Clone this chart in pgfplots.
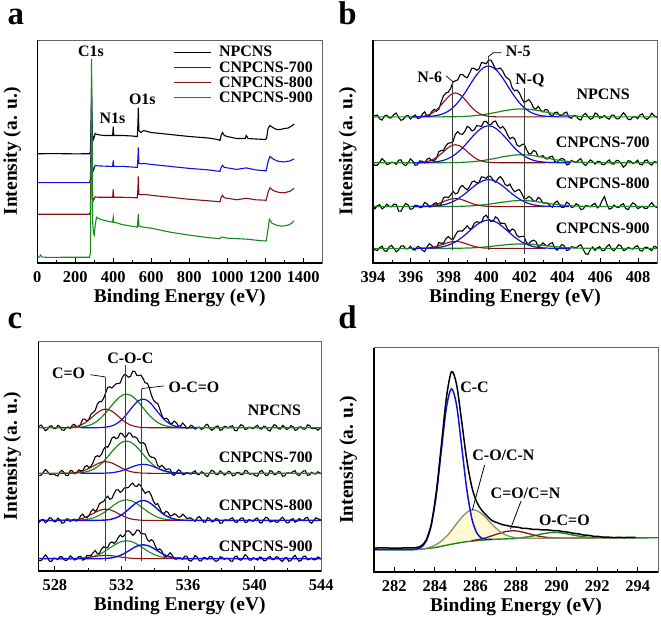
\documentclass[border=0pt]{standalone}
\usepackage{fontspec}
\setmainfont{Liberation Serif}
\usepackage{pgfplots}
\usepackage{pgfplotstable}
\pgfplotsset{compat=1.18}

\definecolor{cblue}{RGB}{16,16,224}
\definecolor{cred}{RGB}{140,16,16}
\definecolor{cgreen}{RGB}{26,138,26}
\definecolor{cgrey}{RGB}{140,140,112}
\definecolor{cyel}{RGB}{255,250,210}
\definecolor{vline}{RGB}{60,60,60}

\newcommand\fs[1]{\fontsize{#1}{#1}\selectfont\bfseries}

\pgfplotstableread{
x r1 r2 r3 r4
394.000 0.5 -1.0 1.0 0.0
394.100 1.2 -2.6 -2.3 -1.4
394.225 1.8 -2.5 0.9 -2.1
394.350 -2.0 0.5 1.9 0.7
394.475 -3.2 4.1 -2.4 2.3
394.600 0.8 1.8 -0.7 -2.5
394.725 1.7 -1.8 2.4 -2.9
394.850 -1.1 -1.3 0.4 1.4
394.975 -0.8 0.6 -0.3 3.0
395.100 2.3 0.2 2.4 0.1
395.225 3.8 -1.7 2.2 -3.4
395.350 -0.6 2.5 -4.5 -1.6
395.475 -3.5 2.9 -4.7 2.3
395.600 -2.4 -1.7 -0.2 2.6
395.725 0.7 -2.8 3.0 -0.4
395.850 1.5 -0.4 1.7 -0.5
395.975 -2.1 3.8 -2.8 2.1
396.100 0.3 1.6 -2.1 -1.2
396.225 1.9 -2.6 1.3 -1.7
396.350 -1.6 -2.1 1.1 1.9
396.475 -1.2 1.9 -1.1 1.2
396.600 2.7 1.4 -0.5 -1.8
396.725 5.0 -0.2 4.1 -3.2
396.850 0.9 3.5 2.9 1.5
396.975 0.8 4.6 -0.5 4.7
397.100 5.3 2.1 0.1 2.9
397.225 7.7 1.8 3.1 -0.2
397.350 5.7 4.3 3.8 0.1
397.475 7.8 11.1 0.3 5.9
397.600 15.0 12.1 2.8 5.2
397.725 21.3 12.6 8.8 5.2
397.850 23.9 17.1 9.7 9.7
397.975 24.8 19.6 8.9 11.9
398.100 28.5 19.9 11.5 9.6
398.225 35.2 21.3 15.3 8.9
398.350 36.1 28.6 12.7 13.3
398.475 37.2 31.2 13.8 17.2
398.600 42.3 28.8 19.4 17.5
398.725 42.5 28.5 21.2 17.4
398.850 40.4 31.5 18.5 20.0
398.975 39.2 36.5 16.7 22.7
399.100 43.9 35.1 20.1 19.5
399.225 48.8 31.8 24.7 20.4
399.350 48.7 33.1 25.6 25.2
399.475 46.8 37.2 23.6 26.8
399.600 48.2 36.9 24.3 26.2
399.725 54.4 36.4 29.8 26.0
399.850 54.2 41.1 29.4 31.7
399.975 53.2 41.6 28.2 33.3
400.100 56.8 38.4 31.0 29.8
400.225 57.0 38.3 29.9 27.0
400.350 52.7 41.0 26.6 27.5
400.475 47.9 41.9 24.3 31.8
400.600 48.2 36.9 27.9 29.6
400.725 49.0 34.6 30.0 25.2
400.850 46.1 36.3 27.0 25.3
400.975 41.1 33.4 22.2 24.7
401.100 38.8 28.2 20.7 19.6
401.225 36.9 23.9 22.6 17.0
401.350 29.1 25.5 18.0 19.6
401.475 26.1 24.2 14.8 18.2
401.600 27.0 17.9 16.2 13.2
401.725 24.1 16.2 17.0 11.3
401.850 19.0 17.9 13.4 12.1
401.975 14.4 18.9 8.0 12.0
402.100 15.7 13.4 7.8 6.0
402.225 17.5 8.9 10.1 4.6
402.350 14.3 9.0 8.7 7.2
402.475 9.3 12.3 5.6 8.2
402.600 7.7 11.1 5.3 7.0
402.725 10.6 6.1 9.3 1.9
402.850 7.0 6.3 7.4 2.8
402.975 4.9 7.1 3.5 5.6
403.100 7.3 4.2 3.5 3.4
403.225 7.0 3.7 3.3 2.5
403.350 2.2 6.0 0.8 4.9
403.475 0.7 6.5 -0.7 5.7
403.600 4.3 1.2 3.9 0.1
403.725 4.7 0.2 5.5 -1.8
403.850 1.5 3.2 2.1 0.9
403.975 1.3 4.3 -0.9 4.0
404.100 3.9 3.2 -0.5 2.6
404.225 4.8 -2.2 4.4 -2.1
404.350 -0.2 -1.5 2.9 -1.5
404.475 -1.4 2.3 -1.0 1.7
404.600 1.5 1.1 -0.3 1.3
404.725 0.9 0.1 2.8 0.5
404.850 -2.0 2.5 1.5 2.4
404.975 -3.2 4.1 -3.1 3.7
405.100 1.7 -0.8 -2.4 -0.8
405.225 3.5 -2.8 0.9 -5.4
405.350 0.3 -0.1 0.6 -6.0
405.475 -2.3 2.8 -0.2 -1.3
405.600 -1.5 1.3 1.9 1.3
405.725 3.8 -1.4 3.2 -2.1
405.850 2.6 1.2 -1.3 0.6
405.975 -1.3 1.4 0.4 1.7
406.100 -0.5 -2.0 6.0 -2.3
406.225 1.4 -2.0 10.0 -1.9
406.350 -1.2 0.8 2.5 1.9
406.475 -2.3 2.8 -2.6 3.8
406.600 1.8 -1.1 -1.7 -0.7
406.725 1.7 -1.4 1.5 -2.5
406.850 -2.0 2.3 -0.4 0.4
406.975 -2.0 2.0 -1.1 3.6
407.100 0.9 -0.6 1.6 2.4
407.225 4.1 -4.5 2.9 -2.2
407.350 1.5 -2.4 -2.2 -1.5
407.475 -2.6 2.1 -3.0 1.0
407.600 -2.7 1.5 0.9 -0.2
407.725 -0.1 -0.8 3.7 -0.7
407.850 0.3 0.3 2.1 1.7
407.975 -1.9 2.5 -2.1 2.7
408.100 2.0 -1.8 -1.0 -2.1
408.225 3.0 -2.2 0.4 -2.6
408.350 -1.1 2.0 -1.9 1.0
408.475 -2.4 2.8 -1.7 1.2
408.600 -0.3 -0.9 1.3 -0.8
408.725 3.7 -2.5 3.9 -2.3
408.850 1.2 1.1 0.6 2.2
409.000 -0.6 0.4 -1.2 0.9
}\braw

\pgfplotstableread{
x b1 b2 b3 b4 d1 d2 d3 d4 g1 g3 g4
394.00 0 0 0 0 0 0 0 0 0 0 0
395.85 0 0 0 0 0 0 0 0 0 0 0
396.10 0 0 0 0 0 0 0 0 0 0 0
396.35 0 0 0 0 0.2 0.1 0.1 0 0 0 0
396.60 0.2 0.1 0.1 0.1 0.6 0.4 0.2 0.2 0 0 0
396.85 0.3 0.2 0.2 0.2 1.5 1.1 0.5 0.4 0 0 0
397.10 0.7 0.5 0.4 0.4 3.5 2.6 1.2 1.0 0 0 0
397.35 1.3 1.0 0.7 0.7 7.0 5.3 2.3 2.0 0 0 0
397.60 2.5 1.8 1.3 1.4 12.0 9.0 4.0 3.5 0 0 0
397.85 4.4 3.2 2.3 2.5 17.6 13.2 5.9 5.1 0.1 0 0
398.10 7.4 5.4 3.9 4.2 22.2 16.7 7.4 6.5 0.1 0.1 0.1
398.35 11.7 8.5 6.2 6.5 24.0 18.0 8.0 7.0 0.2 0.1 0.1
398.60 17.3 12.5 9.2 9.7 22.2 16.7 7.4 6.5 0.3 0.2 0.2
398.85 24.0 17.4 12.7 13.4 17.6 13.2 5.9 5.1 0.5 0.4 0.3
399.10 31.5 22.9 16.7 17.6 12.0 9.0 4.0 3.5 0.8 0.6 0.4
399.35 38.9 28.2 20.6 21.7 7.0 5.3 2.3 2.0 1.2 0.9 0.7
399.60 45.2 32.8 23.9 25.3 3.5 2.6 1.2 1.0 1.7 1.3 0.9
399.85 49.5 35.9 26.2 27.6 1.5 1.1 0.5 0.4 2.3 1.8 1.3
400.10 51.0 37.0 27.0 28.5 0.6 0.4 0.2 0.2 3.1 2.3 1.8
400.35 49.5 35.9 26.2 27.6 0.2 0.1 0.1 0 4.0 3.0 2.3
400.60 45.2 32.8 23.9 25.3 0 0 0 0 4.9 3.7 2.8
400.85 38.9 28.2 20.6 21.7 0 0 0 0 5.9 4.4 3.3
401.10 31.5 22.9 16.7 17.6 0 0 0 0 6.7 5.0 3.8
401.35 24.0 17.4 12.7 13.4 0 0 0 0 7.4 5.6 4.2
401.60 17.3 12.5 9.2 9.7 0 0 0 0 7.8 5.9 4.4
401.85 11.7 8.5 6.2 6.5 0 0 0 0 8.0 6.0 4.5
402.10 7.4 5.4 3.9 4.2 0 0 0 0 7.8 5.9 4.4
402.35 4.4 3.2 2.3 2.5 0 0 0 0 7.4 5.6 4.2
402.60 2.5 1.8 1.3 1.4 0 0 0 0 6.7 5.0 3.8
402.85 1.3 1.0 0.7 0.7 0 0 0 0 5.9 4.4 3.3
403.10 0.7 0.5 0.4 0.4 0 0 0 0 4.9 3.7 2.8
403.35 0.3 0.2 0.2 0.2 0 0 0 0 4.0 3.0 2.3
403.60 0.2 0.1 0.1 0.1 0 0 0 0 3.1 2.3 1.8
403.85 0 0 0 0 0 0 0 0 2.3 1.8 1.3
404.10 0 0 0 0 0 0 0 0 1.7 1.3 0.9
404.35 0 0 0 0 0 0 0 0 1.2 0.9 0.7
404.60 0 0 0 0 0 0 0 0 0.8 0.6 0.4
404.85 0 0 0 0 0 0 0 0 0.5 0.4 0.3
405.10 0 0 0 0 0 0 0 0 0.3 0.2 0.2
405.35 0 0 0 0 0 0 0 0 0.2 0.1 0.1
405.60 0 0 0 0 0 0 0 0 0.1 0.1 0
405.85 0 0 0 0 0 0 0 0 0.1 0 0
406.10 0 0 0 0 0 0 0 0 0 0 0
409.00 0 0 0 0 0 0 0 0 0 0 0
}\bcomp

\pgfplotstableread{
x r1 r2 r3 r4
527.050 1.5 -2.2 -2.1 -2.0
527.175 2.7 -1.9 0.4 -2.0
527.300 0.3 0.9 1.0 0.9
527.425 -2.9 3.8 -2.3 3.8
527.550 -1.8 2.1 -0.8 1.5
527.675 1.5 -1.1 2.7 -2.5
527.800 2.0 -1.0 2.2 -2.7
527.925 -0.7 -0.6 -1.0 0.6
528.050 -0.9 -1.9 -1.4 0.3
528.175 2.4 -2.7 2.3 -1.0
528.300 1.1 1.3 0.7 2.0
528.425 -2.3 3.0 -2.8 1.9
528.550 -2.5 0.7 -2.4 -1.1
528.675 0.1 -2.1 1.4 -1.9
528.800 0.8 -2.0 1.5 -0.3
528.925 -0.8 2.8 -1.1 2.8
529.050 2.5 2.4 0.6 1.2
529.175 3.5 -0.5 1.4 -1.3
529.300 0.4 0.5 -0.6 -0.5
529.425 0.6 3.4 0.8 1.9
529.550 3.5 2.7 4.6 2.4
529.675 8.7 2.6 6.3 -1.5
529.800 8.7 6.7 3.3 -0.5
529.925 6.8 7.7 2.6 3.3
530.050 8.6 5.8 5.0 3.1
530.175 13.8 7.2 9.1 3.2
530.300 15.3 11.0 11.3 6.1
530.425 17.4 16.6 9.0 8.2
530.550 23.6 17.6 11.4 5.0
530.675 26.3 16.7 16.8 5.4
530.800 26.1 19.0 18.2 9.5
530.925 29.4 24.0 18.9 12.0
531.050 35.1 27.1 22.3 10.9
531.175 40.4 26.1 24.4 11.2
531.300 41.1 29.8 21.2 15.6
531.425 39.9 35.2 22.1 16.9
531.550 41.9 36.6 26.7 15.4
531.675 44.1 34.8 30.6 17.1
531.800 44.4 35.7 30.8 21.1
531.925 45.0 40.3 28.2 23.8
532.050 50.4 39.7 29.7 21.9
532.175 53.5 36.5 32.6 23.2
532.300 52.5 37.1 32.7 27.7
532.425 50.7 40.5 33.1 28.0
532.550 51.6 40.2 35.8 26.4
532.675 56.7 36.4 37.5 23.4
532.800 56.6 36.7 34.6 25.2
532.925 52.6 35.5 34.0 28.8
533.050 52.4 31.5 36.5 28.3
533.175 52.7 30.0 34.3 25.3
533.300 49.3 30.9 30.3 25.0
533.425 45.0 29.0 27.1 24.8
533.550 44.8 22.4 28.7 19.4
533.675 40.1 17.7 28.8 17.4
533.800 32.6 16.1 24.8 19.1
533.925 27.7 16.0 19.0 17.3
534.050 25.2 14.1 15.9 11.8
534.175 24.5 7.8 16.9 8.7
534.300 19.1 6.2 12.6 9.8
534.425 12.4 8.1 7.8 7.8
534.550 8.9 5.9 6.8 2.9
534.675 9.6 3.7 9.2 2.1
534.800 8.4 4.3 8.0 3.7
534.925 4.1 4.2 4.4 5.9
535.050 4.5 -1.2 5.0 3.4
535.175 6.7 -2.0 6.7 -0.2
535.300 4.8 1.0 5.5 -0.5
535.425 1.9 3.5 3.3 1.0
535.550 1.8 2.3 3.5 0.6
535.675 4.8 -1.4 6.3 -0.8
535.800 2.5 -0.9 4.5 2.6
535.925 -0.6 0.8 1.9 2.5
536.050 0.2 -0.3 2.5 -1.7
536.175 2.6 -0.8 2.4 -2.5
536.300 1.4 1.2 0.5 -0.4
536.425 -1.4 2.5 -0.9 3.2
536.550 0.1 -0.9 2.5 1.6
536.675 0.7 -1.3 4.0 -2.2
536.800 -1.6 1.6 1.5 -2.2
536.925 -0.7 0.7 -1.6 1.2
537.050 2.6 -2.1 -1.8 0.9
537.175 3.4 -3.3 2.7 -0.6
537.300 -0.5 0.4 2.0 2.1
537.425 -2.5 3.2 -1.4 2.0
537.550 -1.2 1.9 -0.9 -1.0
537.675 1.2 -1.1 1.9 -2.7
537.800 1.8 -1.3 1.1 -1.9
537.925 -2.5 2.4 -2.9 2.0
538.050 -2.0 0.8 -2.6 1.3
538.175 1.5 -1.8 0.4 -0.7
538.300 0.9 -0.6 0.5 0.6
538.425 -0.2 2.1 -0.1 0.1
538.550 1.5 1.2 1.8 -2.3
538.675 2.0 -2.5 2.6 -2.6
538.800 -2.7 -2.0 -1.3 1.9
538.925 -3.1 0.8 -2.2 2.6
539.050 0.3 0.8 0.2 -0.7
539.175 3.0 -1.4 2.3 -1.6
539.300 2.0 -1.1 2.5 0.4
539.425 -1.7 2.9 -2.0 4.0
539.550 -1.1 2.3 -1.7 2.4
539.675 0.7 -0.8 1.0 -1.5
539.800 -0.3 -0.6 -0.4 -1.5
539.925 -0.8 -0.6 -0.8 1.0
540.050 1.2 -2.4 1.6 -0.2
540.175 2.5 -2.9 2.3 -1.4
540.300 -0.9 1.5 -2.2 1.7
540.425 -1.3 2.9 -2.6 1.2
540.550 1.6 0.3 0.9 -2.1
540.675 0.7 -2.2 3.3 -1.8
540.800 -2.1 -1.8 2.1 1.0
540.925 -3.3 2.7 -1.6 2.4
541.050 0.4 2.0 -1.0 -0.8
541.175 3.2 -1.4 -0.1 -0.9
541.300 1.9 -0.9 -1.9 2.2
541.425 -1.1 1.9 -1.5 1.3
541.550 -1.3 1.1 1.3 -1.4
541.675 2.4 -2.9 3.3 -2.8
541.800 0.8 -2.6 0.6 0.7
541.925 -1.8 0.4 -2.5 1.1
542.050 -0.6 0.5 -2.3 -2.5
542.175 2.1 -0.1 0.7 -2.0
542.300 1.2 1.8 1.9 1.4
542.425 -2.5 2.6 -1.8 3.4
542.550 -2.0 -1.3 -0.7 0.1
542.675 0.8 -2.2 1.9 -2.7
542.800 0.8 0.2 0.4 -1.6
542.925 -1.4 2.3 0.0 2.3
543.050 -1.1 2.5 2.4 2.6
543.175 2.9 -2.0 3.1 -1.1
543.300 2.3 -1.7 -1.5 -0.5
543.425 -0.8 1.0 -2.8 0.6
543.550 -0.6 -0.4 -0.2 -1.2
543.675 -0.6 -0.8 2.6 -0.9
543.800 -2.4 1.6 1.7 1.8
544.000 0.5 -0.5 0.3 -0.4
}\craw

\pgfplotstableread{
x d1 d2 d3 d4 g1 g2 g3 g4 b1 b2 b3 b4
527.00 0 0 0 0 0 0 0 0 0 0 0 0
527.80 0 0 0 0 0 0 0 0 0 0 0 0
528.05 0 0 0 0 0 0 0 0 0 0 0 0
528.30 0 0 0 0 0 0 0 0 0 0 0 0
528.55 0.1 0.1 0.1 0 0 0 0 0 0 0 0 0
528.80 0.2 0.2 0.1 0 0.1 0.1 0 0 0 0 0 0
529.05 0.6 0.4 0.4 0 0.1 0.1 0.1 0 0 0 0 0
529.30 1.4 0.9 0.8 0.2 0.3 0.3 0.2 0.2 0 0 0 0
529.55 2.7 1.7 1.6 0.5 0.6 0.6 0.4 0.3 0 0 0 0
529.80 4.9 3.1 3.0 0.9 1.3 1.2 0.8 0.7 0 0 0 0
530.05 7.9 5.0 4.8 1.4 2.4 2.3 1.4 1.3 0 0 0 0
530.30 11.6 7.2 7.0 2.0 4.1 4.0 2.5 2.2 0 0 0 0
530.55 15.1 9.4 9.1 2.7 6.8 6.5 4.2 3.6 0.1 0 0.1 0
530.80 17.7 11.1 10.7 3.1 10.4 9.9 6.4 5.5 0.2 0.1 0.2 0.1
531.05 18.7 11.7 11.3 3.3 14.9 14.2 9.1 7.9 0.6 0.2 0.4 0.3
531.30 17.7 11.1 10.7 3.1 20.0 19.1 12.3 10.7 1.3 0.4 0.9 0.6
531.55 15.1 9.4 9.1 2.7 25.1 24.1 15.4 13.4 2.7 0.9 1.9 1.3
531.80 11.6 7.2 7.0 2.0 29.6 28.3 18.2 15.8 5.1 1.6 3.6 2.5
532.05 7.9 5.0 4.8 1.4 32.6 31.3 20.0 17.4 8.6 2.7 6.0 4.2
532.30 4.9 3.1 3.0 0.9 33.7 32.3 20.7 18.0 13.3 4.2 9.3 6.5
532.55 2.7 1.7 1.6 0.5 32.6 31.3 20.0 17.4 18.6 5.8 13.0 9.1
532.80 1.4 0.9 0.8 0.2 29.6 28.3 18.2 15.8 23.7 7.4 16.5 11.6
533.05 0.6 0.4 0.4 0.1 25.1 24.1 15.4 13.4 27.4 8.6 19.1 13.3
533.30 0.2 0.2 0.1 0 20.0 19.1 12.3 10.7 28.7 9.0 20.0 14.0
533.55 0.1 0.1 0.1 0 14.9 14.2 9.1 7.9 27.4 8.6 19.1 13.3
533.80 0 0 0 0 10.4 9.9 6.4 5.5 23.7 7.4 16.5 11.6
534.05 0 0 0 0 6.8 6.5 4.2 3.6 18.6 5.8 13.0 9.1
534.30 0 0 0 0 4.1 4.0 2.5 2.2 13.3 4.2 9.3 6.5
534.55 0 0 0 0 2.4 2.3 1.4 1.3 8.6 2.7 6.0 4.2
534.80 0 0 0 0 1.3 1.2 0.8 0.7 5.1 1.6 3.6 2.5
535.05 0 0 0 0 0.6 0.6 0.4 0.3 2.7 0.9 1.9 1.3
535.30 0 0 0 0 0.3 0.3 0.2 0.2 1.3 0.4 0.9 0.6
535.55 0 0 0 0 0.1 0.1 0.1 0.1 0.6 0.2 0.4 0.3
535.80 0 0 0 0 0.1 0.1 0 0 0.2 0.1 0.2 0.1
536.05 0 0 0 0 0 0 0 0 0.1 0 0.1 0
536.30 0 0 0 0 0 0 0 0 0 0 0 0
536.55 0 0 0 0 0 0 0 0 0 0 0 0
536.80 0 0 0 0 0 0 0 0 0 0 0 0
537.05 0 0 0 0 0 0 0 0 0 0 0 0
544.00 0 0 0 0 0 0 0 0 0 0 0 0
}\ccomp

\pgfplotsset{
  xps/.style={
    scale only axis, anchor=south west, clip=false,
    tick align=inside, xtick pos=left, ytick=\empty,
    minor x tick num=1, major tick length=5pt, minor tick length=3pt,
    every tick/.style={black, line width=0.9pt},
    axis line style={line width=0.6pt, black!60},
    /pgf/number format/assume math mode=true,
    /pgf/number format/1000 sep={},
    tick label style={font=\fs{16.5}},
    xticklabel style={yshift=-5pt},
    label style={font=\fs{19.5}},
    xlabel={Binding Energy (eV)},
    ylabel={Intensity (a. u.)},
    xlabel style={at={(axis description cs:0.5,0)}, anchor=base, yshift=-40pt},
    ymin=0,
    every node/.append style={inner sep=0pt},
    after end axis/.code={\draw[line width=1.4pt, black] (rel axis cs:0,1) -- (rel axis cs:0,0) -- (rel axis cs:1,0);},
  },
}

\begin{document}
\begin{tikzpicture}[x=1pt,y=1pt]
\path (0,0) rectangle (661,616);
\node[anchor=base west, font=\fs{33}, inner sep=0pt] at (5,591) {a};
\node[anchor=base west, font=\fs{33}, inner sep=0pt] at (337,591) {b};
\node[anchor=base west, font=\fs{33}, inner sep=0pt] at (5,286) {c};
\node[anchor=base west, font=\fs{33}, inner sep=0pt] at (337,286) {d};

% ---------------- panel a ----------------
\begin{axis}[xps, at={(35pt,352pt)}, width=286pt, height=224pt,
  xmin=0, xmax=1500, ymax=224, xtick={0,200,...,1400},
  ylabel style={at={(axis description cs:-0.088,0.5)}, anchor=center},
  legend style={draw=none, fill=none, at={(0.982,0.985)}, anchor=north east,
    font=\fs{16}, row sep=1pt, column sep=6pt, nodes={inner sep=1pt}},
  legend cell align=left,
  legend image code/.code={\draw[#1, line width=1.3pt] (0pt,0pt) -- (38pt,0pt);}]
\addplot[black, line width=1.1pt] coordinates {(0,109.7) (100,109.8) (200,109.6) (275,109.7) (280,112) (284,150) (286,176) (288,150) (291,128) (296,124) (305,130) (315,129) (350,128) (390,128) (397,128) (400,137) (403,128) (450,128) (500,127.5) (527,127) (530,140) (532,156) (535,133) (545,131) (560,133) (580,132) (600,131) (700,129) (800,127) (900,125.5) (950,124) (962,123) (968,128) (975,131) (985,128) (1000,127) (1050,125) (1095,125) (1100,128) (1110,125) (1150,124.5) (1200,124) (1207,125) (1215,135) (1225,138) (1240,136) (1260,134) (1280,134) (1300,135) (1320,135.5) (1340,137.5) (1352,139.5)};
\addlegendentry{NPCNS}
\addplot[cblue, line width=1.1pt] coordinates {(0,80.7) (275,80.7) (280,84) (284,130) (286,163) (288,130) (291,97) (296,93) (305,98) (320,97.5) (390,97) (397,97) (400,103) (403,97) (450,97) (527,96) (530,105) (532,116) (535,100) (550,99.5) (560,100) (600,99) (700,97) (800,95) (900,93.5) (962,92) (968,96) (975,98) (985,96) (1050,94) (1100,95.5) (1150,93.5) (1205,92.5) (1215,102) (1225,107) (1245,104) (1270,102) (1300,101.5) (1330,102.5) (1352,104.5)};
\addlegendentry{CNPCNS-700}
\addplot[cred, line width=1.1pt] coordinates {(0,49) (275,49) (280,52) (284,110) (286,146) (288,110) (291,66) (296,63) (305,66.5) (320,66) (390,66) (397,66) (400,74) (403,66) (450,66) (527,65.5) (530,75) (532,87) (535,69) (550,68.5) (560,69) (600,68) (700,66) (800,64) (900,62.5) (962,61.5) (968,66) (975,68) (985,65.5) (1050,63.5) (1100,65) (1150,63.5) (1205,63) (1215,71) (1225,75.5) (1245,72.5) (1270,71) (1300,70.5) (1330,72) (1352,75)};
\addlegendentry{CNPCNS-800}
\addplot[cgreen, line width=1.1pt] coordinates {(0,5.7) (10,6) (18,8) (25,6) (60,5.7) (150,5.8) (275,5.8) (280,10) (284,120) (286,205) (288,150) (292,40) (296,30) (300,28) (305,38) (312,46) (330,44) (370,42) (397,41) (400,46) (403,41) (450,38.5) (527,36) (530,44) (532,49) (535,37) (560,36) (600,35) (700,31) (800,28) (900,25.5) (962,24.5) (968,26) (975,26) (1000,25) (1100,24) (1150,23) (1205,22) (1212,30) (1222,44) (1235,40) (1260,38) (1290,37) (1320,38) (1340,40) (1352,42.5)};
\addlegendentry{CNPCNS-900}
\node[font=\fs{16}] at (axis cs:283,212.3) {C1s};
\node[font=\fs{16}] at (axis cs:396,145.7) {N1s};
\node[font=\fs{16}] at (axis cs:553,164.7) {O1s};
\end{axis}

% ---------------- panel b ----------------
\begin{axis}[xps, at={(372pt,352pt)}, width=285pt, height=224pt,
  xmin=394, xmax=409, ymax=224, xtick={394,396,...,408},
  ylabel style={at={(axis description cs:-0.089,0.5)}, anchor=center}]
\addplot[black, line width=1.1pt] table[x=x, y expr=\thisrow{r1}+146.7]{\braw};
\addplot[cgreen, line width=1.2pt, smooth] table[x=x, y expr=\thisrow{g1}+146.7]{\bcomp};
\addplot[cred, line width=1.1pt, smooth, restrict x to domain=396:403.2] table[x=x, y expr=\thisrow{d1}+146.7]{\bcomp};
\addplot[cblue, line width=1.2pt, smooth, restrict x to domain=396:404.5] table[x=x, y expr=\thisrow{b1}+146.7]{\bcomp};
\addplot[black, line width=1.1pt] table[x=x, y expr=\thisrow{r2}+100.7]{\braw};
\addplot[cgreen, line width=1.2pt, smooth] table[x=x, y expr=\thisrow{g1}+100.7]{\bcomp};
\addplot[cred, line width=1.1pt, smooth, restrict x to domain=396:403.2] table[x=x, y expr=\thisrow{d2}+100.7]{\bcomp};
\addplot[cblue, line width=1.2pt, smooth, restrict x to domain=396:404.5] table[x=x, y expr=\thisrow{b2}+100.7]{\bcomp};
\addplot[black, line width=1.1pt] table[x=x, y expr=\thisrow{r3}+56.7]{\braw};
\addplot[cgreen, line width=1.2pt, smooth] table[x=x, y expr=\thisrow{g3}+56.7]{\bcomp};
\addplot[cred, line width=1.1pt, smooth, restrict x to domain=396:403.2] table[x=x, y expr=\thisrow{d3}+56.7]{\bcomp};
\addplot[cblue, line width=1.2pt, smooth, restrict x to domain=396:404.5] table[x=x, y expr=\thisrow{b3}+56.7]{\bcomp};
\addplot[black, line width=1.1pt] table[x=x, y expr=\thisrow{r4}+14.7]{\braw};
\addplot[cgreen, line width=1.2pt, smooth] table[x=x, y expr=\thisrow{g4}+14.7]{\bcomp};
\addplot[cred, line width=1.1pt, smooth, restrict x to domain=396:403.2] table[x=x, y expr=\thisrow{d4}+14.7]{\bcomp};
\addplot[cblue, line width=1.2pt, smooth, restrict x to domain=396:404.5] table[x=x, y expr=\thisrow{b4}+14.7]{\bcomp};
\draw[vline, line width=1pt] (axis cs:398.2,182.3) -- (axis cs:398.2,13.3);
\draw[vline, line width=1pt] (axis cs:400.1,207.3) -- (axis cs:400.1,13.3);
\draw[vline, line width=1pt] (axis cs:402.0,175.7) -- (axis cs:402.0,9);
\draw[black, line width=0.7pt] (axis cs:397.85,188) -- (axis cs:398.2,182.3);
\draw[black, line width=0.7pt] (axis cs:400.1,207.3) -- (axis cs:400.35,211) -- (axis cs:400.78,211);
\node[font=\fs{16}, anchor=east] at (axis cs:397.84,186) {N-6};
\node[font=\fs{16}, anchor=west] at (axis cs:400.83,212.3) {N-5};
\node[font=\fs{16}, anchor=west] at (axis cs:401.33,183.3) {N-Q};
\node[font=\fs{16}, anchor=east] at (axis cs:407.75,169) {NPCNS};
\node[font=\fs{16}, anchor=east] at (axis cs:408.8,121.7) {CNPCNS-700};
\node[font=\fs{16}, anchor=east] at (axis cs:408.8,79.7) {CNPCNS-800};
\node[font=\fs{16}, anchor=east] at (axis cs:408.8,34.7) {CNPCNS-900};
\end{axis}

% ---------------- panel c ----------------
\begin{axis}[xps, at={(36pt,43pt)}, width=284pt, height=230pt,
  xmin=527, xmax=544, ymax=230, xtick={528,532,...,544},
  ylabel style={at={(axis description cs:-0.0915,0.5)}, anchor=center}]
\addplot[black, line width=1.1pt] table[x=x, y expr=\thisrow{r1}+143.7]{\craw};
\addplot[cgreen, line width=1.2pt, smooth] table[x=x, y expr=\thisrow{g1}+143.7]{\ccomp};
\addplot[cred, line width=1.1pt, smooth, restrict x to domain=528.3:536.1] table[x=x, y expr=\thisrow{d1}+143.7]{\ccomp};
\addplot[cblue, line width=1.2pt, smooth, restrict x to domain=529.5:536.6] table[x=x, y expr=\thisrow{b1}+143.7]{\ccomp};
\addplot[black, line width=1.1pt] table[x=x, y expr=\thisrow{r2}+98]{\craw};
\addplot[cgreen, line width=1.2pt, smooth] table[x=x, y expr=\thisrow{g2}+98]{\ccomp};
\addplot[cred, line width=1.1pt, smooth, restrict x to domain=528.3:536.1] table[x=x, y expr=\thisrow{d2}+98]{\ccomp};
\addplot[cblue, line width=1.2pt, smooth, restrict x to domain=529.5:536.6] table[x=x, y expr=\thisrow{b2}+98]{\ccomp};
\addplot[black, line width=1.1pt] table[x=x, y expr=\thisrow{r3}+50.7]{\craw};
\addplot[cgreen, line width=1.1pt, smooth, restrict x to domain=528.3:536.6] table[x=x, y expr=\thisrow{g3}+50.7]{\ccomp};
\addplot[cred, line width=1.1pt, smooth, restrict x to domain=528.3:536.1] table[x=x, y expr=\thisrow{d3}+50.7]{\ccomp};
\addplot[cblue, line width=1.4pt, smooth] table[x=x, y expr=\thisrow{b3}+50.7]{\ccomp};
\addplot[black, line width=1.1pt] table[x=x, y expr=\thisrow{r4}+12.3]{\craw};
\addplot[cgreen, line width=1.1pt, smooth, restrict x to domain=528.3:536.6] table[x=x, y expr=\thisrow{g4}+12.3]{\ccomp};
\addplot[cred, line width=1.1pt, smooth, restrict x to domain=528.3:536.1] table[x=x, y expr=\thisrow{d4}+12.3]{\ccomp};
\addplot[cblue, line width=1.4pt, smooth] table[x=x, y expr=\thisrow{b4}+12.3]{\ccomp};
\draw[vline, line width=1pt] (axis cs:531.03,194.7) -- (axis cs:531.03,9.7);
\draw[vline, line width=1pt] (axis cs:532.27,207) -- (axis cs:532.27,9.7);
\draw[vline, line width=1pt] (axis cs:533.22,183) -- (axis cs:533.22,9.7);
\draw[black, line width=0.7pt] (axis cs:530.13,197) -- (axis cs:531.03,194.7);
\draw[black, line width=0.7pt] (axis cs:533.22,183) -- (axis cs:534.55,185.7);
\node[font=\fs{16}, anchor=east] at (axis cs:530.03,198) {C=O};
\node[font=\fs{16}] at (axis cs:532.53,213) {C-O-C};
\node[font=\fs{16}, anchor=west] at (axis cs:534.62,184.7) {O-C=O};
\node[font=\fs{16}, anchor=east] at (axis cs:543.0,161.3) {NPCNS};
\node[font=\fs{16}, anchor=east] at (axis cs:543.7,113.7) {CNPCNS-700};
\node[font=\fs{16}, anchor=east] at (axis cs:543.7,66.3) {CNPCNS-800};
\node[font=\fs{16}, anchor=east] at (axis cs:543.7,24.7) {CNPCNS-900};
\end{axis}

% ---------------- panel d ----------------
\begin{axis}[xps, at={(373pt,42pt)}, width=285pt, height=225pt,
  xmin=281, xmax=295, ymax=225, xtick={282,284,...,294},
  ylabel style={at={(axis description cs:-0.091,0.5)}, anchor=center}]
\addplot[fill=cyel, draw=none] coordinates {(283.0,22.5) (283.35,23.1) (283.60,23.9) (283.85,25.5) (284.10,27.9) (284.35,31.5) (284.60,36.3) (284.85,42.4) (285.10,49.2) (285.35,55.4) (285.60,60.2) (285.85,62.3) (286.10,61.2) (286.35,57.7) (286.60,52.6) (286.85,47.1) (287.10,42.3) (287.35,38.6) (287.60,36.2) (287.85,34.8) (288.10,34.1) (288.35,33.85) (288.35,33.6) (288,33.5) (287.5,33.2) (287,32.8) (286.5,32.2) (286,31.3) (285.5,30.2) (285,28.5) (284.5,26.5) (284,24.5) (283.5,23.2) (283.0,22.5)} -- cycle;
\addplot[cgreen, line width=1.4pt, smooth] coordinates {(281,22.3) (282,22.3) (283,22.5) (283.5,23.2) (284,24.5) (284.5,26.5) (285,28.5) (285.5,30.2) (286,31.3) (286.5,32.2) (287,32.8) (287.5,33.2) (287.9,33.5) (288.15,34.1) (288.4,34.7) (288.65,35.5) (288.9,36.4) (289.15,37.6) (289.4,38.6) (289.65,39.4) (289.9,39.7) (290.15,39.4) (290.4,38.7) (290.65,37.7) (290.9,36.7) (291.15,35.8) (291.4,35.1) (291.65,34.6) (291.9,34.4) (292.5,34.2) (293.5,34.2) (295,34.3)};
\addplot[cred, line width=1.3pt, smooth] coordinates {(285.8,31.3) (286.05,32.1) (286.3,33.2) (286.55,34.6) (286.8,36.2) (287.05,37.9) (287.3,39.5) (287.55,40.7) (287.8,41.3) (288.05,41.0) (288.3,40.1) (288.55,38.8) (288.8,37.5) (289.05,36.2) (289.3,35.3) (289.55,34.65) (289.8,34.4) (290.3,34.0) (292,34.1)};
\addplot[cgrey, line width=1.3pt, smooth] coordinates {(283.0,22.5) (283.35,23.1) (283.60,23.9) (283.85,25.5) (284.10,27.9) (284.35,31.5) (284.60,36.3) (284.85,42.4) (285.10,49.2) (285.35,55.4) (285.60,60.2) (285.85,62.3) (286.10,61.2) (286.35,57.7) (286.60,52.6) (286.85,47.1) (287.10,42.3) (287.35,38.6) (287.60,36.2) (287.85,34.8) (288.10,34.1) (288.35,33.85) (289,33.8) (290,34.0) (292,34.1) (293.9,34.2)};
\addplot[cblue, line width=1.5pt, smooth] coordinates {(281,22.3) (282,22.3) (282.82,22.4) (283.07,22.9) (283.32,24.8) (283.57,30.9) (283.82,46.6) (284.07,77.5) (284.32,122.2) (284.57,165.2) (284.82,183.8) (285.07,167.3) (285.32,126.1) (285.57,83.3) (285.82,53.7) (286.07,39.0) (286.32,33.8) (286.57,32.7) (286.82,32.6)};
\addplot[black, line width=1.5pt, smooth] coordinates {(281,23.9) (281.5,24.2) (282,23.8) (282.5,24.1) (283.0,24.2) (283.32,26.1) (283.57,32.0) (283.82,47.9) (284.07,80.3) (284.32,127.4) (284.57,175) (284.82,201) (285.07,188) (285.32,151.3) (285.57,112.7) (285.82,85.4) (286.07,69.9) (286.32,61.7) (286.57,56.2) (286.82,51.5) (287.07,49.5) (287.32,47.5) (287.57,46.5) (287.82,45.3) (288.07,45.0) (288.32,43.8) (288.57,43.6) (288.82,42.8) (289.07,42.8) (289.32,42.1) (289.57,42.2) (289.82,41.5) (290.07,41.4) (290.32,40.5) (290.57,39.9) (290.82,38.8) (291.07,38.3) (291.32,37.1) (291.57,36.8) (291.82,35.8) (292.07,35.6) (292.32,34.9) (292.57,34.9) (292.82,34.5) (293.07,34.8) (293.32,34.5) (293.57,34.8) (293.9,34.6)};
\draw[black, line width=0.8pt] (axis cs:286.45,107.3) -- (axis cs:285.85,62.3);
\draw[black, line width=0.8pt] (axis cs:288.25,71.3) -- (axis cs:287.73,43.3);
\node[font=\fs{16}, anchor=west] at (axis cs:285.08,185.7) {C-C};
\node[font=\fs{16}, anchor=west] at (axis cs:285.68,117.3) {C-O/C-N};
\node[font=\fs{16}, anchor=west] at (axis cs:286.58,79) {C=O/C=N};
\node[font=\fs{16}, anchor=west] at (axis cs:288.96,52.3) {O-C=O};
\end{axis}
\end{tikzpicture}
\end{document}
